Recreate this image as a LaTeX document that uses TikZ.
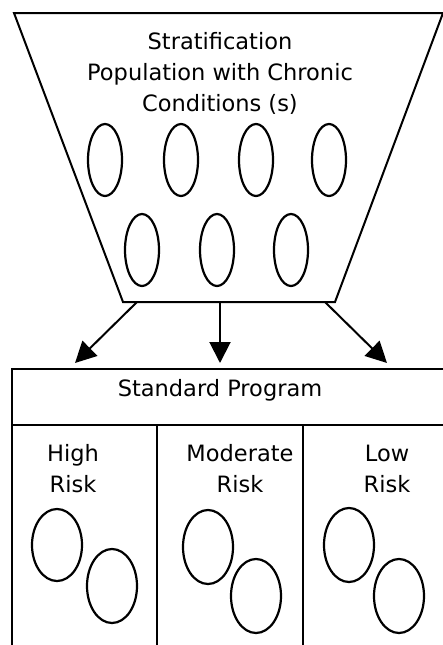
\documentclass[tikz,border=0pt]{standalone}
\usepackage{fontspec}
\setmainfont{DejaVu Sans}
\usepackage{tikz}
\usetikzlibrary{arrows.meta}
\tikzstyle{diagram} = [x = 1pt, y = -1pt]
\tikzstyle{outlineStyle} = [color=black, line width=2pt]
\tikzstyle{memberStyle} = [color=black, line width=2.2pt]
\tikzstyle{flowArrow} = [color=black, line width=2pt, -{Triangle[length=21pt, width=21pt]}]
\tikzstyle{labelText} = [font=\fontsize{22.5}{31}\selectfont, align=center, inner sep=0pt]
\newcommand{\member}[4]{\draw [memberStyle] (#1, #2) ellipse (#3pt and #4pt);}

\begin{document}
\begin{tikzpicture}[diagram]
  \useasboundingbox (0,0) rectangle (443,645);

  % funnel
  \coordinate (funnelTopLeft) at (14,13);
  \coordinate (funnelTopRight) at (443,13);
  \coordinate (funnelBottomRight) at (335,302);
  \coordinate (funnelBottomLeft) at (123,302);
  \draw [outlineStyle] (funnelTopLeft) -- (funnelTopRight) -- (funnelBottomRight) -- (funnelBottomLeft) -- cycle;
  \node [labelText] (stratTitle) at (220,73) {Stratification\\Population with Chronic\\Conditions (s)};
  \foreach \x in {105,181,256,329} {
    \member{\x}{160}{17}{36}
  }
  \foreach \x in {142,217,291} {
    \member{\x}{250}{17}{36}
  }

  % arrows
  \coordinate (leftStart) at (137,302);
  \coordinate (leftEnd) at (75,363);
  \coordinate (midStart) at (220,302);
  \coordinate (midEnd) at (220,363);
  \coordinate (rightStart) at (325,302);
  \coordinate (rightEnd) at (387,363);
  \draw [flowArrow] (leftStart) -- (leftEnd);
  \draw [flowArrow] (midStart) -- (midEnd);
  \draw [flowArrow] (rightStart) -- (rightEnd);

  % program box
  \coordinate (boxBottomLeft) at (12,645);
  \coordinate (boxTopLeft) at (12,369);
  \coordinate (boxTopRight) at (443,369);
  \coordinate (headLeft) at (12,425);
  \coordinate (headRight) at (443,425);
  \coordinate (divOneTop) at (157,425);
  \coordinate (divOneBottom) at (157,645);
  \coordinate (divTwoTop) at (303,425);
  \coordinate (divTwoBottom) at (303,645);
  \draw [outlineStyle] (boxBottomLeft) -- (boxTopLeft) -- (boxTopRight);
  \draw [outlineStyle] (headLeft) -- (headRight);
  \draw [outlineStyle] (divOneTop) -- (divOneBottom);
  \draw [outlineStyle] (divTwoTop) -- (divTwoBottom);
  \node [labelText] (standardLabel) at (220,390) {Standard Program};
  \node [labelText] (highLabel) at (73,469) {High\\Risk};
  \node [labelText] (moderateLabel) at (240,469) {Moderate\\Risk};
  \node [labelText] (lowLabel) at (387,469) {Low\\Risk};

  \member{57}{545}{25}{36}
  \member{112}{586}{25}{37}
  \member{208}{547}{25}{37}
  \member{256}{596}{25}{37}
  \member{349}{545}{25}{37}
  \member{399}{596}{25}{37}
\end{tikzpicture}
\end{document}
